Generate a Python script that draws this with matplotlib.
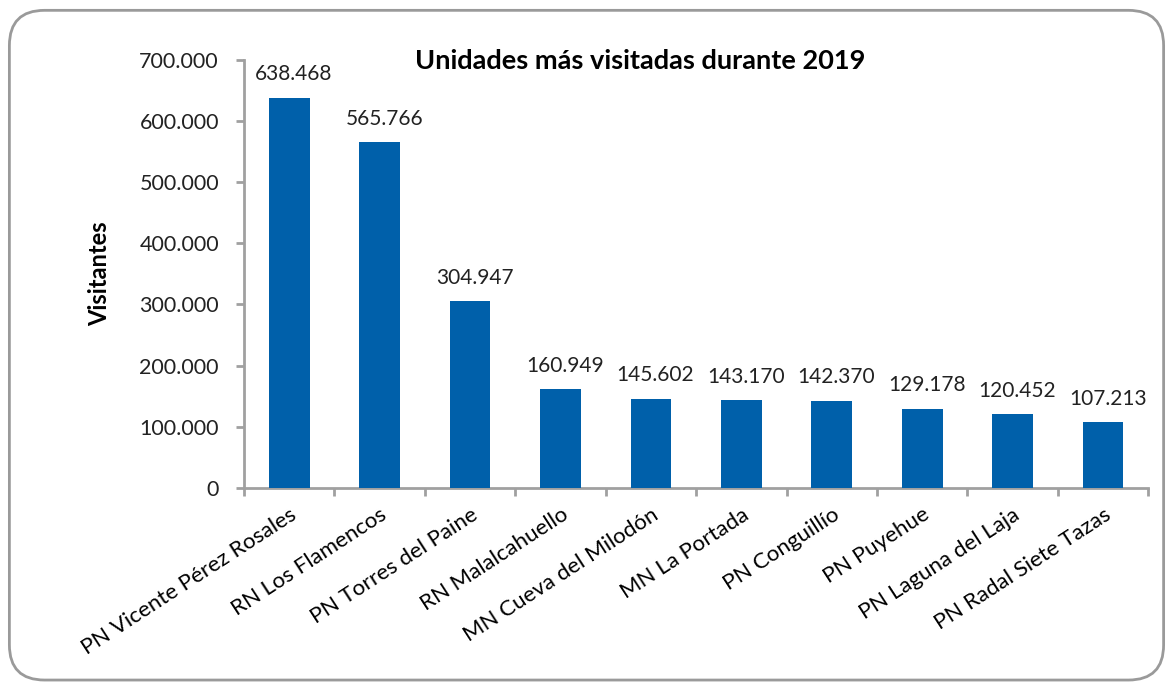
import matplotlib.pyplot as plt
from matplotlib.patches import FancyBboxPatch
from matplotlib.ticker import FuncFormatter

plt.rcParams['font.family'] = ['Lato', 'DejaVu Sans']

# datos
unidades = ['PN Vicente Pérez Rosales', 'RN Los Flamencos', 'PN Torres del Paine',
            'RN Malalcahuello', 'MN Cueva del Milodón', 'MN La Portada',
            'PN Conguillío', 'PN Puyehue', 'PN Laguna del Laja', 'PN Radal Siete Tazas']
visitantes = [638468, 565766, 304947, 160949, 145602, 143170, 142370, 129178, 120452, 107213]

def miles(v, pos=None):
    return f'{int(v):,}'.replace(',', '.')

fig = plt.figure(figsize=(11.73, 6.89), dpi=100)

# marco redondeado
marco = FancyBboxPatch((0.008, 0.013), 0.984, 0.972, boxstyle='round,pad=0,rounding_size=0.03',
                       transform=fig.transFigure, facecolor='white', edgecolor='#9a9a9a',
                       linewidth=2, mutation_aspect=1173 / 689, zorder=-1)
fig.patches.append(marco)

ax = fig.add_axes([0.208, 0.292, 0.771, 0.621])
ax.set_zorder(2)
ax.patch.set_alpha(0)
x = range(len(unidades))
ax.bar(x, visitantes, width=0.45, color='#0060AA', edgecolor='none', zorder=3)

for i, v in enumerate(visitantes):
    ax.text(i + 0.05, v + 22000, miles(v), ha='center', va='bottom', fontsize=15, color='#222222')

ax.set_xlim(-0.5, len(unidades) - 0.5)
ax.set_ylim(0, 700000)
ax.set_yticks(range(0, 700001, 100000))
ax.yaxis.set_major_formatter(FuncFormatter(miles))

ax.set_xticks(x)
ax.set_xticklabels(unidades, rotation=33, ha='right', rotation_mode='anchor', fontsize=16)
ax.set_xticks([i - 0.5 for i in range(len(unidades) + 1)], minor=True)
ax.tick_params(axis='x', which='major', length=0, pad=12)
ax.tick_params(axis='x', which='minor', length=6, width=2, color='#a0a0a0', direction='out')
ax.tick_params(axis='y', length=6, width=2, color='#a0a0a0', direction='out', labelsize=15.5,
               pad=12, labelcolor='#222222')

for s in ['top', 'right']:
    ax.spines[s].set_visible(False)
for s in ['left', 'bottom']:
    ax.spines[s].set_color('#a0a0a0')
    ax.spines[s].set_linewidth(2)

ax.set_ylabel('Visitantes', fontsize=17, fontweight='bold', labelpad=20)
fig.text(0.546, 0.912, 'Unidades más visitadas durante 2019', ha='center', va='center',
         fontsize=19.5, fontweight='bold')

fig.savefig('out.png', dpi=100)
